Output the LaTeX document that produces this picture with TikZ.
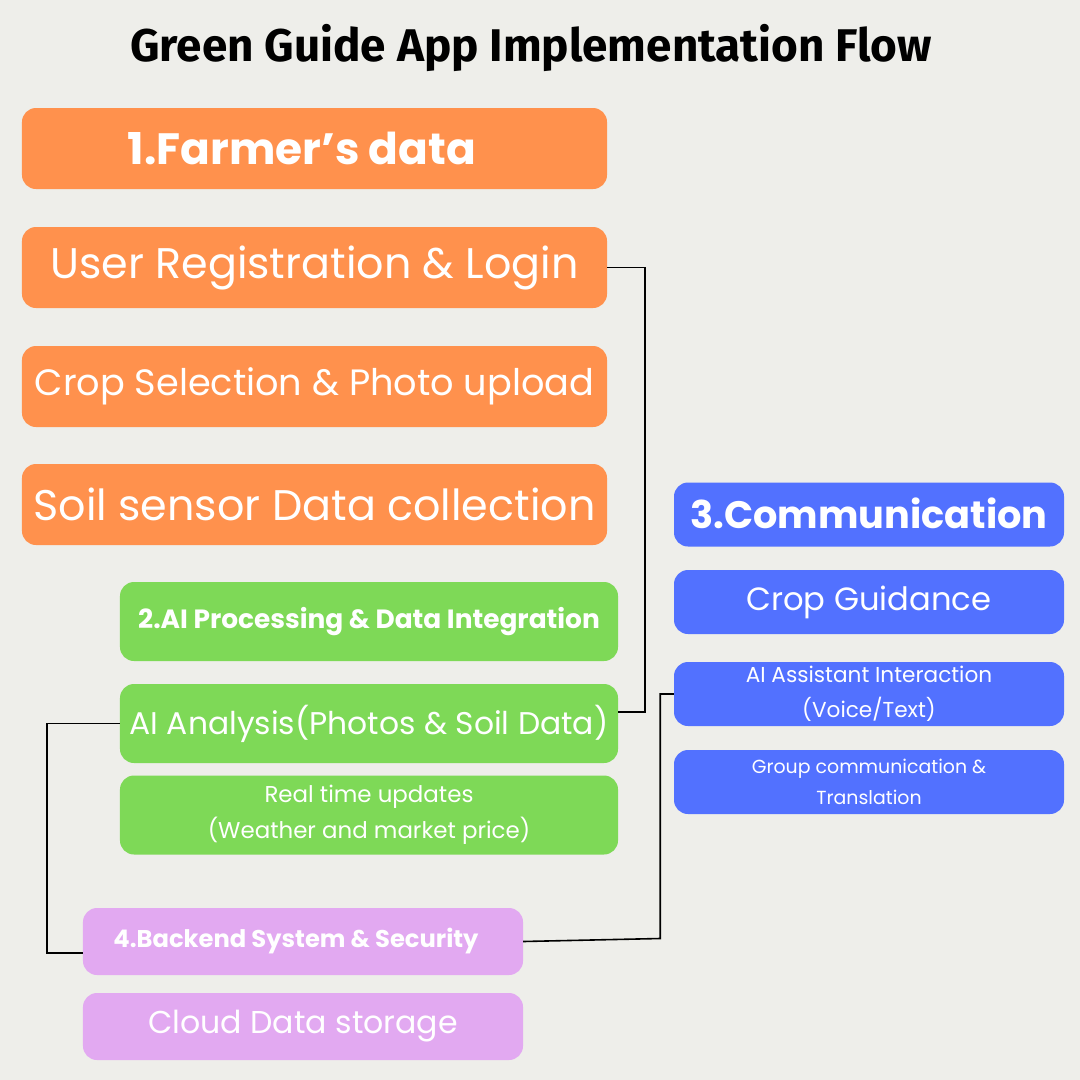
\documentclass[tikz,border=0pt]{standalone}
\usepackage{fontspec}
\setmainfont{Poppins}
\newfontfamily\titlefont{Fira Sans}
\usepackage{xcolor}
\definecolor{nenxam}{HTML}{EEEEEA}
\definecolor{dncam}{HTML}{FF914D}
\definecolor{dnluc}{HTML}{7ED957}
\definecolor{dnlam}{HTML}{5271FF}
\definecolor{dntim}{HTML}{E2A9F1}
\def\fs#1#2{\fontsize{#1}{#2}\selectfont}
\usetikzlibrary{calc,positioning}

\begin{document}
\begin{tikzpicture}[x=1bp,y=-1bp]%
			\tikzset{
				hop/.style={rounded corners=14bp,text=white,inner sep=0pt,align=center},
				hopcam/.style={hop,fill=dncam,minimum width=585bp,minimum height=81bp},
				hopluc/.style={hop,fill=dnluc,minimum width=498bp,minimum height=79bp},
				hoplam/.style={hop,fill=dnlam,minimum width=390bp,minimum height=64bp},
				hoptim/.style={hop,fill=dntim,minimum width=440bp,minimum height=67bp},
				noi/.style={draw=black,line width=1.6bp}
			}
		%%%nen
		\fill[nenxam] (0,0) rectangle (1080,1080);
		\useasboundingbox (0,0) rectangle (1080,1080);
		\path (531,48) node[font=\titlefont\bfseries\fs{46}{54}] (tieude) {Green Guide App Implementation Flow};
		%%%Nhom 1
		\path (314.5,148.5) node[hopcam,font=\bfseries\fs{44}{52}] (nongdan) {\hspace*{-25bp}1.Farmer’s data};
		\path (314.5,267.5) node[hopcam,font=\fs{43}{50}] (dangky) {User Registration \& Login};
		\path (314.5,386.5) node[hopcam,font=\fs{36.8}{44}] (chonvu) {Crop Selection \& Photo upload};
		\path (314.5,504.5) node[hopcam,font=\fs{43}{50}] (cambien) {Soil sensor Data collection};
		%%%Nhom 2
		\path (369,621.5) node[hopluc,font=\bfseries\fs{26.5}{32}] (xuly) {2.AI Processing \& Data Integration};
		\path (369,723.5) node[hopluc,font=\fs{31.5}{38}] (phantich) {AI Analysis(Photos \& Soil Data)};
		\path (369,815) node[hopluc,font=\fs{23}{36}] (capnhat) {Real time updates\\(Weather and market price)};
		%%%Nhom 3
		\path (869,514.5) node[hoplam,font=\bfseries\fs{38.4}{46}] (giaotiep) {\raisebox{2bp}{3.Communication}};
		\path (869,602) node[hoplam,font=\fs{32.3}{39}] (huongdan) {\raisebox{-3bp}{Crop Guidance}};
		\path (869,694) node[hoplam,font=\fs{21.7}{35}] (trolyao) {AI Assistant Interaction\\(Voice/Text)};
		\path (869,782) node[hoplam,font=\fs{19}{31}] (nhom) {Group communication \&\\Translation};
		%%%Nhom 4
		\path (303,941.5) node[hoptim,font=\bfseries\fs{24.3}{30}] (hethong) {\hspace*{-14bp}4.Backend System \& Security};
		\path (303,1026.5) node[hoptim,font=\fs{31.7}{38}] (luutru) {\raisebox{2bp}{Cloud Data storage}};
		%%%duong noi
		\draw[noi] (dangky.east) -- ++(38,0) |- ([yshift=11.5bp]phantich.east);
		\draw[noi] (phantich.west) -- ++(-73,0) |- ([yshift=-11.5bp]hethong.west);
		\draw[noi] (hethong.east) -- ++(137,-3) coordinate (goc) -- (goc|-trolyao.west) -- (trolyao.west);
	\end{tikzpicture}
\end{document}
